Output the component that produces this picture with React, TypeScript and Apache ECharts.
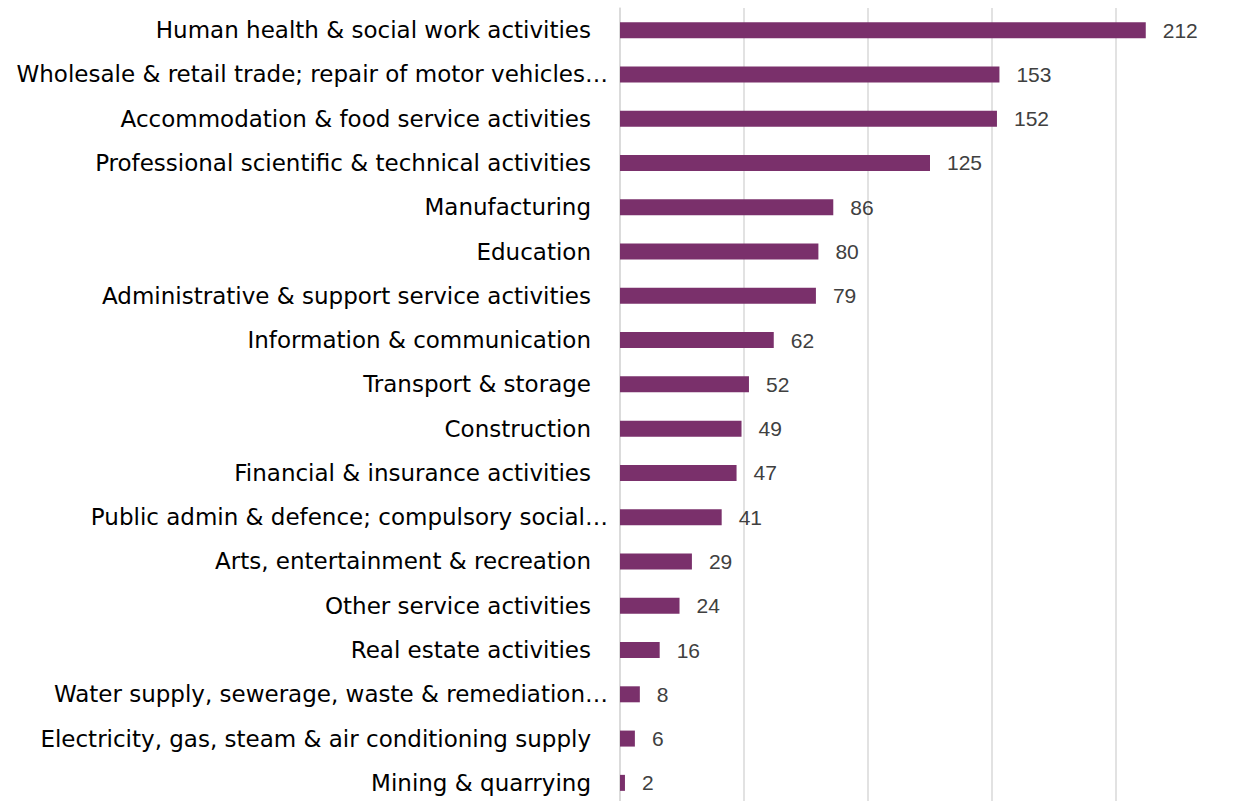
import React, { useEffect, useRef } from "react";
import * as echarts from "echarts";

const categories: string[] = [
  "Human health & social work activities",
  "Wholesale & retail trade; repair of motor vehicles…",
  "Accommodation & food service activities",
  "Professional scientific & technical activities",
  "Manufacturing",
  "Education",
  "Administrative & support service activities",
  "Information & communication",
  "Transport & storage",
  "Construction",
  "Financial & insurance activities",
  "Public admin & defence; compulsory social…",
  "Arts, entertainment & recreation",
  "Other service activities",
  "Real estate activities",
  "Water supply, sewerage, waste & remediation…",
  "Electricity, gas, steam & air conditioning supply",
  "Mining & quarrying",
];

const values: number[] = [212, 153, 152, 125, 86, 80, 79, 62, 52, 49, 47, 41, 29, 24, 16, 8, 6, 2];

const axisMin = 0;
const axisMax = 250;
const axisInterval = 50;

const LABEL_FONT = "'DejaVu Sans', sans-serif";
const VALUE_FONT = "'Liberation Sans', Arial, sans-serif";

export default function App() {
  const ref = useRef<HTMLDivElement>(null);

  useEffect(() => {
    if (!ref.current) return;
    const chart = echarts.init(ref.current, undefined, { renderer: "svg" });
    chart.setOption({
      animation: false,
      backgroundColor: "#ffffff",
      grid: {
        left: 620,
        top: 8,
        width: 620,
        height: 797,
        containLabel: false,
        outerBoundsMode: "none",
      },
      xAxis: {
        type: "value",
        min: axisMin,
        max: axisMax,
        interval: axisInterval,
        axisLabel: { show: false },
        axisLine: { show: false },
        axisTick: { show: false },
        splitLine: { show: true, lineStyle: { color: "#d9d9d9", width: 1.5 } },
      },
      yAxis: {
        type: "category",
        data: categories,
        inverse: true,
        axisTick: { show: false },
        axisLine: { show: true, lineStyle: { color: "#d9d9d9", width: 1.5 } },
        axisLabel: {
          margin: 12,
          color: "#000000",
          fontFamily: LABEL_FONT,
          fontSize: 23,
          formatter: (v: string) => (v.endsWith("…") ? `{e|${v}}` : `{n|${v}}`),
          rich: {
            e: { color: "#000000", fontFamily: LABEL_FONT, fontSize: 23 },
            n: { color: "#000000", fontFamily: LABEL_FONT, fontSize: 23, padding: [0, 17, 0, 0] },
          },
        },
      },
      series: [
        {
          type: "bar",
          data: values,
          barWidth: 16,
          itemStyle: { color: "#7a306b" },
          label: {
            show: true,
            position: "right",
            distance: 17,
            color: "#404040",
            fontFamily: VALUE_FONT,
            fontSize: 21,
          },
        },
      ],
    });
    return () => chart.dispose();
  }, []);

  return (
    <div
      ref={ref}
      style={{ position: "fixed", left: 0, top: 0, width: 1236, height: 801 }}
    />
  );
}
